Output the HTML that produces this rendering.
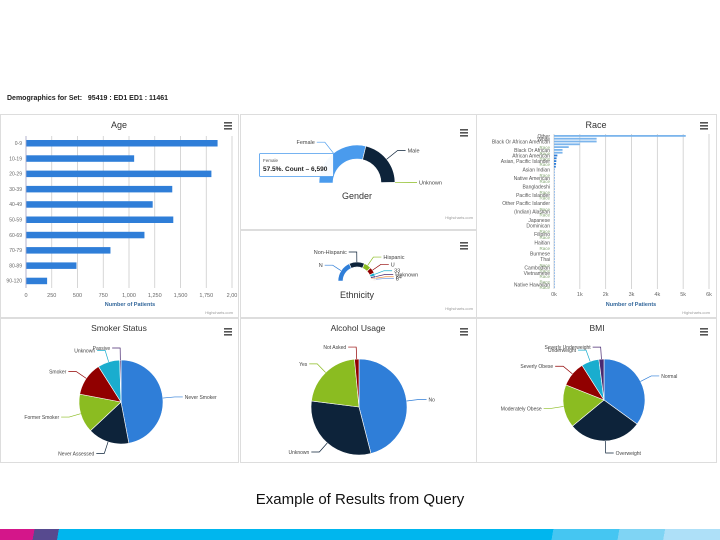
<!DOCTYPE html>
<html><head><meta charset="utf-8"><style>
body{margin:0;width:720px;height:540px;overflow:hidden;background:#fff;font-family:"Liberation Sans",sans-serif;position:relative}
.abs{position:absolute}
</style></head><body>
<div class="abs" style="left:7px;top:95px;font-size:7px;font-weight:bold;color:#222">Demographics for Set:&nbsp;&nbsp; 95419 : ED1 ED1 : 11461</div>
<svg class="abs" style="left:0;top:0" width="720" height="540" id="svg" font-family="Liberation Sans, sans-serif"></svg>
<div class="abs" style="left:0;width:720px;top:491px;text-align:center;font-size:15px;color:#111">Example of Results from Query</div>
<div class="abs" style="left:0;top:529px;width:720px;height:11px;background:linear-gradient(100deg,#d4168a 0,#d4168a 34px,#574a8f 34px,#574a8f 58px,#00b6ee 58px,#00b6ee 545px,#45c6f2 545px,#45c6f2 610px,#7fd4f4 610px,#7fd4f4 655px,#aee0f8 655px)"></div>
<script>
const ageCats=["0-9","10-19","20-29","30-39","40-49","50-59","60-69","70-79","80-89","90-120"];
const ageVals=[1860,1050,1800,1420,1230,1430,1150,820,490,205];
const ageTicks=[0,250,500,750,"1,000","1,250","1,500","1,750","2,00"];
const genderCats=["Female","Male","Unknown"];
const genderVals=[57.5,42.0,0.5];
const ethCats=["N","Non-Hispanic","Hispanic","U","33","Unknown","24","8","x1","x2"];
const ethVals=[35,25,12,10,5,3,2,1.5,1,1];
const raceVals=[5100,1650,1650,1000,570,330,330,130,100,90,80,70,20,15,12,10,10,8,8,6,6,5,5,4,4,3,3,3,3,2,2,2,2,2,2,2,1,1,1,1,1,1,1,1,1,1,1,1,1,1,1,1,1,1,1];
const raceLabels={0:"Other",1:"White",2:"Black Or African American",5:"Black Or African",7:"African American",9:"Asian, Pacific Islander",12:"Asian Indian",15:"Native American",18:"Bangladeshi",21:"Pacific Islander",24:"Other Pacific Islander",27:"(Indian) Alaskan",30:"Japanese",32:"Dominican",35:"Filipino",38:"Haitian",42:"Burmese",44:"Thai",47:"Cambodian",49:"Vietnamese",53:"Native Hawaiian"};
const raceTicks=["0k","1k","2k","3k","4k","5k","6k"];
const smokeCats=["Never Smoker","Never Assessed","Former Smoker","Smoker","Unknown","Passive"];
const smokeVals=[47,16,15,13,8.5,0.5];
const alcCats=["No","Unknown","Yes","Not Asked"];
const alcVals=[46,31,21.5,1.5];
const bmiCats=["Normal","Overweight","Moderately Obese","Severly Obese","Underweight","Severly Underweight"];
const bmiVals=[35,29,17,10,7,2];

const svg=document.getElementById('svg');const NS="http://www.w3.org/2000/svg";
function el(t,a,p){const e=document.createElementNS(NS,t);for(const k in a)e.setAttribute(k,a[k]);(p||svg).appendChild(e);return e;}
function tx(x,y,s,sz,c,anc){const e=el('text',{x:x,y:y,'font-size':sz,fill:c||'#555','text-anchor':anc||'start'});e.textContent=s;return e;}
const panels=[[0,114,238,203,"age-panel"],[240,114,236,115,"gender-panel"],[240,230,236,87,"ethnicity-panel"],[476,114,240,203,"race-panel"],[0,318,238,144,"smoker-panel"],[240,318,236,144,"alcohol-panel"],[476,318,240,144,"bmi-panel"]];
panels.forEach(p=>{const r=el('rect',{x:p[0]+.5,y:p[1]+.5,width:p[2],height:p[3],fill:'none',stroke:'#ddd'});

});
function menu(x,y){const g=el('g',{});


for(let i=0;i<3;i++)el('rect',{x:x,y:y+i*3,width:8,height:1.6,fill:'#555'},g);}
[[224,122],[460,129],[460,242],[700,122],[224,328],[460,328],[700,328]].forEach(m=>menu(m[0],m[1]));
// Age
tx(119,128,"Age",9,'#333','middle');
const ax0=26,ax1=232,amax=2000;const xA=v=>ax0+(ax1-ax0)*v/amax;
for(let i=0;i<=8;i++){el('line',{x1:xA(i*250),x2:xA(i*250),y1:136,y2:288,stroke:'#ccc','stroke-width':.8});tx(xA(i*250),297,ageTicks[i],5.5,'#666','middle');}
ageCats.forEach((c,i)=>{const y=143+i*15.3;const b=el('rect',{x:ax0,y:y-3,width:xA(ageVals[i])-ax0,height:6.5,fill:'#2f7ed8'});


tx(22,y+2,c,5,'#666','end');});
el('line',{x1:ax0,x2:ax0,y1:136,y2:288,stroke:'#aac',"stroke-width":.8});
tx(130,306,"Number of Patients",5.5,'#33679b','middle').setAttribute('font-weight','bold');
tx(233,314,"Highcharts.com",4,'#999','end');
function arcPath(cx,cy,r,ri,a0,a1){const p=(r,a)=>[cx+r*Math.cos(a),cy+r*Math.sin(a)];const [x0,y0]=p(r,a0),[x1,y1]=p(r,a1),l=a1-a0>Math.PI?1:0;
if(ri>0){const [x2,y2]=p(ri,a1),[x3,y3]=p(ri,a0);return `M${x0},${y0}A${r},${r} 0 ${l} 1 ${x1},${y1}L${x2},${y2}A${ri},${ri} 0 ${l} 0 ${x3},${y3}Z`;}
return `M${cx},${cy}L${x0},${y0}A${r},${r} 0 ${l} 1 ${x1},${y1}Z`;}
function chart(cats,vals,cols,cx,cy,r,ri,start,span,name,fs,labR){const tot=vals.reduce((a,b)=>a+b,0);let a=start;
cats.forEach((c,i)=>{const a1=a+span*vals[i]/tot;const p=el('path',{d:arcPath(cx,cy,r,ri,a,a1),fill:cols[i%cols.length],stroke:'#fff','stroke-width':.6});


if(labR&&vals[i]/tot>0.004&&!c.startsWith('x')){const m=(a+a1)/2;const ex=cx+r*Math.cos(m),ey=cy+r*Math.sin(m);const lx=cx+(r+labR)*Math.cos(m),ly=cy+(r+labR)*Math.sin(m);const right=Math.cos(m)>=0;
el('polyline',{points:`${ex},${ey} ${lx},${ly} ${lx+(right?8:-8)},${ly}`,fill:'none',stroke:cols[i%cols.length],'stroke-width':.7});
tx(lx+(right?10:-10),ly+2,c,fs,'#444',right?'start':'end');}
a=a1;});}
const pal=['#2f7ed8','#0d233a','#8bbc21','#910000','#1aadce','#492970','#f28f43','#77a1e5','#c42525','#a6c96a'];
// Gender
chart(genderCats,genderVals,['#4a9bed','#0d233a','#8bbc21'],357,183,38,24,Math.PI,Math.PI,'gender',5.5,14);
tx(357,199,"Gender",9,'#333','middle');
const tt=el('g',{});
el('rect',{x:259.5,y:153.5,width:74,height:23,fill:'#fff','fill-opacity':.95,stroke:'#4a9bed','stroke-width':.8,rx:1},tt);
tx(263,162,"Female",4.5,'#555',undefined);tx(263,171,"57.5%. Count \u2013 6,590",6.5,'#222').setAttribute('font-weight','bold');
tx(473,219,"Highcharts.com",4,'#999','end');
// Ethnicity
chart(ethCats,ethVals,pal,357,281,19,14,Math.PI,Math.PI,'ethnicity',5.5,10);
tx(357,298,"Ethnicity",9,'#333','middle');
tx(473,310,"Highcharts.com",4,'#999','end');
// Race
tx(596,128,"Race",9,'#333','middle');
const rx0=554,rx1=709,rmax=6000;const xR=v=>rx0+(rx1-rx0)*v/rmax;
for(let i=0;i<=6;i++){el('line',{x1:xR(i*1000),x2:xR(i*1000),y1:134,y2:289,stroke:'#ccc','stroke-width':.8});tx(xR(i*1000),296,raceTicks[i],5.5,'#666','middle');}
raceVals.forEach((v,i)=>{const y=136+i*2.8;const b=el('rect',{x:rx0,y:y-1,width:Math.max(xR(v)-rx0,.5),height:1.8,fill:i<7?'#7cb5ec':'#2f7ed8'});


if(raceLabels[i]!==undefined)tx(550,y+2,raceLabels[i],5,'#555','end');
else if(i%2==0)tx(550,y+2,"Race",4.5,'#8a7','end');});
tx(631,306,"Number of Patients",5.5,'#33679b','middle').setAttribute('font-weight','bold');
tx(710,314,"Highcharts.com",4,'#999','end');
// Pies
tx(119,331,"Smoker Status",8.5,'#333','middle');
chart(smokeCats,smokeVals,['#2f7ed8','#0d233a','#8bbc21','#910000','#1aadce','#492970'],121,402,42,0,-Math.PI/2,2*Math.PI,'smoker',5,12);
tx(358,331,"Alcohol Usage",8.5,'#333','middle');
chart(alcCats,alcVals,['#2f7ed8','#0d233a','#8bbc21','#910000'],359,407,48,0,-Math.PI/2,2*Math.PI,'alcohol',5,12);
tx(597,331,"BMI",8.5,'#333','middle');
chart(bmiCats,bmiVals,['#2f7ed8','#0d233a','#8bbc21','#910000','#1aadce','#492970'],604,400,41,0,-Math.PI/2,2*Math.PI,'bmi',5,12);
</script>
</body></html>
